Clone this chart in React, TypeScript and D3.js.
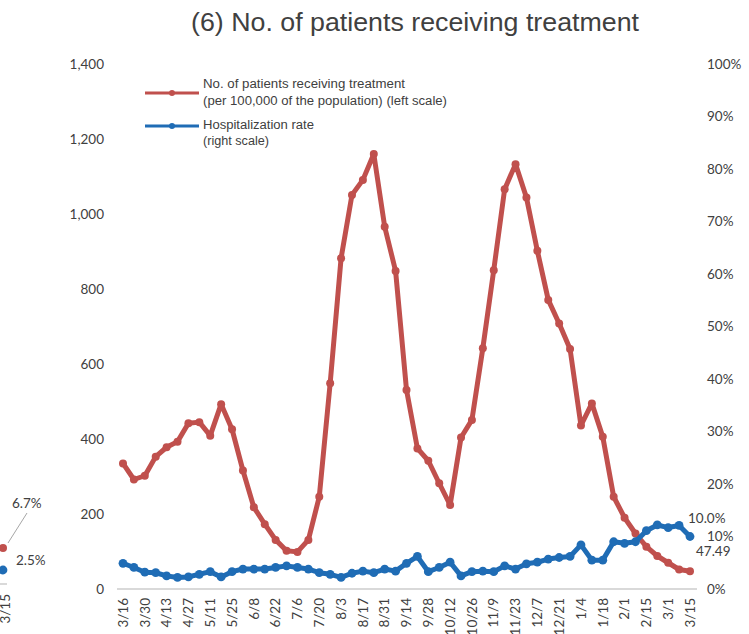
import React from "react";
import * as d3 from "d3";

const weeks: string[] = [
  "3/16","3/23","3/30","4/6","4/13","4/20","4/27","5/4","5/11","5/18","5/25","6/1","6/8","6/15","6/22","6/29",
  "7/6","7/13","7/20","7/27","8/3","8/10","8/17","8/24","8/31","9/7","9/14","9/21","9/28","10/5","10/12","10/19",
  "10/26","11/2","11/9","11/16","11/23","11/30","12/7","12/14","12/21","12/28","1/4","1/11","1/18","1/25","2/1",
  "2/8","2/15","2/22","3/1","3/8","3/15"
];
const tickWeeks: string[] = [
  "3/16","3/30","4/13","4/27","5/11","5/25","6/8","6/22","7/6","7/20","8/3","8/17","8/31","9/14","9/28","10/12",
  "10/26","11/9","11/23","12/7","12/21","1/4","1/18","2/1","2/15","3/1","3/15"
];
const patients: number[] = [
  335, 292, 302, 353, 378, 393, 442, 445, 409, 493, 426, 316, 218, 173, 131, 102,
  99, 131, 246, 549, 882, 1051, 1091, 1160, 966, 848, 531, 375, 342, 282, 224, 404,
  451, 642, 850, 1066, 1133, 1044, 902, 771, 708, 640, 436, 495, 406, 246, 190,
  148, 113, 88, 70, 52, 47.49
];
const hospRate: number[] = [
  4.9, 4.1, 3.2, 3.1, 2.5, 2.2, 2.3, 2.8, 3.3, 2.3, 3.3, 3.8, 3.8, 3.8, 4.1, 4.4,
  4.1, 3.8, 3.1, 2.8, 2.2, 3.0, 3.4, 3.1, 3.8, 3.4, 4.9, 6.2, 3.3, 4.1, 5.1, 2.5,
  3.3, 3.4, 3.3, 4.4, 3.8, 4.8, 5.1, 5.7, 6.0, 6.2, 8.4, 5.5, 5.5, 9.0, 8.7,
  9.0, 11.1, 12.2, 11.7, 12.1, 10.0
];
const leftTicks: number[] = [0, 200, 400, 600, 800, 1000, 1200, 1400];
const rightTicks: number[] = [0, 10, 20, 30, 40, 50, 60, 70, 80, 90, 100];

const RED = "#c0504d";
const BLUE = "#1f6cb5";
const TXT = "#404040";
const TICKFONT = "Lato, 'Open Sans', sans-serif";
const SANS = "'Liberation Sans', Arial, sans-serif";
const TFS = 13.5;

export default function App() {
  const W = 749, H = 634;
  const x = d3.scalePoint<string>().domain(weeks).range([123, 690]);
  const yL = d3.scaleLinear().domain([0, 1400]).range([589, 64]);
  const yR = d3.scaleLinear().domain([0, 100]).range([589, 64]);
  const redLine = d3.line<number>().x((_, i) => x(weeks[i])!).y((d) => yL(d));
  const blueLine = d3.line<number>().x((_, i) => x(weeks[i])!).y((d) => yR(d));
  const fmt = d3.format(",");
  const lastX = x(weeks[weeks.length - 1])!;

  return (
    <svg width={W} height={H} style={{ position: "absolute", left: 0, top: 0, background: "#fff" }}>
      {/* title */}
      <text x={415} y={31} textAnchor="middle" fontFamily={SANS} fontSize={25.5} fill={TXT}
        textLength={448} lengthAdjust="spacingAndGlyphs">
        (6) No. of patients receiving treatment
      </text>

      {/* left axis labels */}
      {leftTicks.map((t) => (
        <text key={"l" + t} x={104} y={yL(t)} dy="0.35em" textAnchor="end" fontFamily={TICKFONT} fontSize={TFS} fill={TXT}>
          {fmt(t)}
        </text>
      ))}
      {/* right axis labels */}
      {rightTicks.map((t) => (
        <text key={"r" + t} x={707} y={yR(t)} dy="0.35em" textAnchor="start" fontFamily={TICKFONT} fontSize={TFS} fill={TXT}>
          {t + "%"}
        </text>
      ))}

      {/* x axis line */}
      <line x1={117} x2={697} y1={589} y2={589} stroke="#d9d9d9" strokeWidth={2} />
      {tickWeeks.map((w) => (
        <text key={"x" + w} transform={`translate(${x(w)},598) rotate(-90)`} dy="0.35em" textAnchor="end"
          fontFamily={TICKFONT} fontSize={TFS} fill={TXT}>
          {w}
        </text>
      ))}

      {/* series */}
      <path d={redLine(patients)!} fill="none" stroke={RED} strokeWidth={5} strokeLinejoin="round" />
      {patients.map((v, i) => (
        <circle key={"rc" + i} cx={x(weeks[i])} cy={yL(v)} r={4} fill={RED} />
      ))}
      <path d={blueLine(hospRate)!} fill="none" stroke={BLUE} strokeWidth={5} strokeLinejoin="round" />
      {hospRate.map((v, i) => (
        <circle key={"bc" + i} cx={x(weeks[i])} cy={yR(v)} r={4.4} fill={BLUE} />
      ))}

      {/* end labels */}
      <text x={688} y={518} dy="0.35em" fontFamily={TICKFONT} fontSize={TFS} fill={TXT}>
        {hospRate[hospRate.length - 1].toFixed(1) + "%"}
      </text>
      <text x={lastX + 6} y={551} dy="0.35em" fontFamily={TICKFONT} fontSize={TFS} fill={TXT}>
        {patients[patients.length - 1].toFixed(2)}
      </text>

      {/* legend */}
      <line x1={145} x2={199} y1={93} y2={93} stroke={RED} strokeWidth={3} />
      <circle cx={172} cy={93} r={3} fill={RED} />
      <text x={203} y={84} dy="0.35em" fontFamily={SANS} fontSize={12} fill={TXT} textLength={202} lengthAdjust="spacingAndGlyphs">
        No. of patients receiving treatment
      </text>
      <text x={203} y={101} dy="0.35em" fontFamily={SANS} fontSize={12} fill={TXT} textLength={244} lengthAdjust="spacingAndGlyphs">
        (per 100,000 of the population) (left scale)
      </text>
      <line x1={145} x2={199} y1={126} y2={126} stroke={BLUE} strokeWidth={3} />
      <circle cx={172} cy={126} r={3} fill={BLUE} />
      <text x={203} y={125} dy="0.35em" fontFamily={SANS} fontSize={12} fill={TXT} textLength={111} lengthAdjust="spacingAndGlyphs">
        Hospitalization rate
      </text>
      <text x={203} y={141} dy="0.35em" fontFamily={SANS} fontSize={12} fill={TXT} textLength={66} lengthAdjust="spacingAndGlyphs">
        (right scale)
      </text>

      {/* cut-off neighbouring chart at the left edge */}
      <text x={12} y={503} dy="0.35em" fontFamily={TICKFONT} fontSize={TFS} fill={TXT}>6.7%</text>
      <line x1={27} y1={513} x2={8} y2={543} stroke="#a6a6a6" strokeWidth={1} />
      <circle cx={3} cy={548} r={4} fill={RED} />
      <line x1={-5} y1={573} x2={3} y2={570} stroke={BLUE} strokeWidth={5} />
      <circle cx={3} cy={570} r={4.4} fill={BLUE} />
      <text x={16} y={560} dy="0.35em" fontFamily={TICKFONT} fontSize={TFS} fill={TXT}>2.5%</text>
      <line x1={0} x2={7} y1={584} y2={584} stroke="#d9d9d9" strokeWidth={2} />
      <text transform="translate(5,594) rotate(-90)" dy="0.35em" textAnchor="end" fontFamily={TICKFONT} fontSize={TFS} fill={TXT}>
        3/15
      </text>
    </svg>
  );
}
